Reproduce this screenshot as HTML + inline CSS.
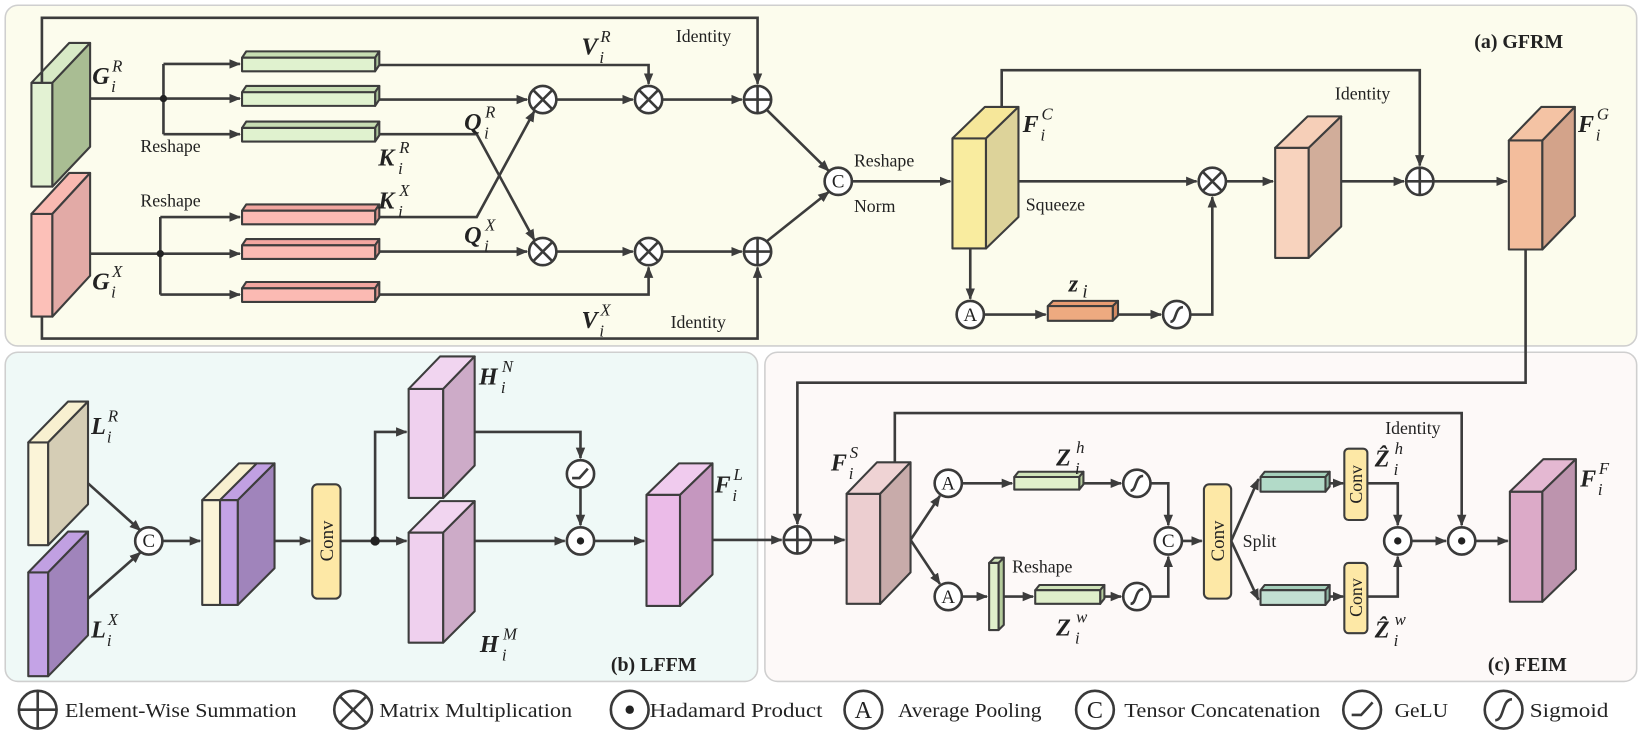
<!DOCTYPE html>
<html><head><meta charset="utf-8"><style>
html,body{margin:0;padding:0;background:#fff;}
svg{display:block;}
text{font-family:"Liberation Serif",serif;fill:#222;}
.l{font-size:17px;}
.m{font-size:23px;font-weight:bold;font-style:italic;}
.s{font-size:16px;font-style:italic;}
.lg{font-size:19px;}
</style></head><body>
<svg width="1644" height="737" viewBox="0 0 1569 703" preserveAspectRatio="none" xmlns="http://www.w3.org/2000/svg">
<defs>
<marker id="ar" markerWidth="11" markerHeight="10" refX="10" refY="5" orient="auto" markerUnits="userSpaceOnUse"><path d="M0,0.5 L11,5 L0,9.5z" fill="#3c3c3c"/></marker>
</defs>
<!-- panels -->
<rect x="5" y="5" width="1557" height="325" rx="12" fill="#fcfced" stroke="#cfcfcf" stroke-width="1.5"/>
<rect x="5" y="336" width="718" height="314" rx="12" fill="#eff9f7" stroke="#cfcfcf" stroke-width="1.5"/>
<rect x="730" y="336" width="832" height="314" rx="12" fill="#fdf9f8" stroke="#cfcfcf" stroke-width="1.5"/>

<g stroke="#3d3d3d" stroke-width="2" stroke-linejoin="round">
<!-- G^R -->
<rect x="30" y="79" width="20" height="99" fill="#e3f2d3"/>
<polygon points="30,79 66,41 86,41 50,79" fill="#d8eac6"/>
<polygon points="50,79 86,41 86,140 50,178" fill="#a9bd93"/>
<!-- G^X -->
<rect x="30" y="204" width="20" height="98" fill="#fcc0b8"/>
<polygon points="30,204 66,165 86,165 50,204" fill="#f9b9b1"/>
<polygon points="50,204 86,165 86,263 50,302" fill="#e2aaa6"/>
<!-- green bars -->
<g>
<polygon points="231,55 235,49 362,49 358,55" fill="#c7ddb3"/><polygon points="358,55 362,49 362,62 358,68" fill="#aac49a"/><rect x="231" y="55" width="127" height="13" fill="#e0f2cf"/>
<polygon points="231,88 235,82 362,82 358,88" fill="#c7ddb3"/><polygon points="358,88 362,82 362,95 358,101" fill="#aac49a"/><rect x="231" y="88" width="127" height="13" fill="#e0f2cf"/>
<polygon points="231,122 235,116 362,116 358,122" fill="#c7ddb3"/><polygon points="358,122 362,116 362,129 358,135" fill="#aac49a"/><rect x="231" y="122" width="127" height="13" fill="#e0f2cf"/>
</g>
<!-- pink bars -->
<g>
<polygon points="231,201 235,195 362,195 358,201" fill="#f2a6a0"/><polygon points="358,201 362,195 362,208 358,214" fill="#e09890"/><rect x="231" y="201" width="127" height="13" fill="#fbbab3"/>
<polygon points="231,234 235,228 362,228 358,234" fill="#f2a6a0"/><polygon points="358,234 362,228 362,241 358,247" fill="#e09890"/><rect x="231" y="234" width="127" height="13" fill="#fbbab3"/>
<polygon points="231,275 235,269 362,269 358,275" fill="#f2a6a0"/><polygon points="358,275 362,269 362,282 358,288" fill="#e09890"/><rect x="231" y="275" width="127" height="13" fill="#fbbab3"/>
</g>
<!-- F^C -->
<rect x="909" y="132" width="32" height="105" fill="#f9ec9f"/>
<polygon points="909,132 940,102 972,102 941,132" fill="#f6e79a"/>
<polygon points="941,132 972,102 972,207 941,237" fill="#ddd39a"/>
<!-- orange slab -->
<rect x="1217" y="141" width="32" height="105" fill="#f8d3be"/>
<polygon points="1217,141 1248,111 1280,111 1249,141" fill="#f6cfb8"/>
<polygon points="1249,141 1280,111 1280,216 1249,246" fill="#d1ad9a"/>
<!-- F^G -->
<rect x="1440" y="134" width="32" height="104" fill="#f3bd9c"/>
<polygon points="1440,134 1471,102 1503,102 1472,134" fill="#f4c3a4"/>
<polygon points="1472,134 1503,102 1503,206 1472,238" fill="#d3a38a"/>
<!-- z bar -->
<polygon points="1000,292 1005,287 1067,287 1062,292" fill="#e99c72"/>
<polygon points="1062,292 1067,287 1067,301 1062,306" fill="#d48a62"/>
<rect x="1000" y="292" width="62" height="14" fill="#eeaa80"/>

<!-- LFFM -->
<rect x="27" y="422" width="19" height="98" fill="#fbf4d8"/>
<polygon points="27,422 65,383 84,383 46,422" fill="#f8f0d0"/>
<polygon points="46,422 84,383 84,481 46,520" fill="#d5cdb5"/>
<rect x="27" y="546" width="19" height="99" fill="#c4a3e6"/>
<polygon points="27,546 65,507 84,507 46,546" fill="#c1a0e2"/>
<polygon points="46,546 84,507 84,606 46,645" fill="#a084bb"/>
<rect x="193" y="477" width="17" height="100" fill="#fbf4d8"/>
<rect x="210" y="477" width="17" height="100" fill="#c4a3e6"/>
<polygon points="193,477 228,442 245,442 210,477" fill="#f8f0d0"/>
<polygon points="210,477 245,442 262,442 227,477" fill="#c1a0e2"/>
<polygon points="227,477 262,442 262,542 227,577" fill="#a084bb"/>
<rect x="298" y="462" width="27" height="109" rx="5" fill="#fde8a6"/>
<rect x="390" y="371" width="33" height="104" fill="#efd0ee"/>
<polygon points="390,371 420,340 453,340 423,371" fill="#f1d5f0"/>
<polygon points="423,371 453,340 453,444 423,475" fill="#cdabc8"/>
<rect x="390" y="508" width="33" height="105" fill="#efd0ee"/>
<polygon points="390,508 420,478 453,478 423,508" fill="#f1d5f0"/>
<polygon points="423,508 453,478 453,583 423,613" fill="#cdabc8"/>
<rect x="617" y="472" width="32" height="106" fill="#ebbbe8"/>
<polygon points="617,472 648,442 680,442 649,472" fill="#f0cbee"/>
<polygon points="649,472 680,442 680,548 649,578" fill="#c597bf"/>

<!-- FEIM -->
<rect x="808" y="471" width="32" height="105" fill="#ecced0"/>
<polygon points="808,471 837,441 869,441 840,471" fill="#efd3d4"/>
<polygon points="840,471 869,441 869,546 840,576" fill="#c8abaa"/>
<polygon points="968,455 972,450 1034,450 1030,455" fill="#cfe3b9"/><polygon points="1030,455 1034,450 1034,462 1030,467" fill="#b5cc9d"/><rect x="968" y="455" width="62" height="12" fill="#e0efcb"/>
<polygon points="944,537 949,532 958,532 953,537" fill="#cfe3b9"/><polygon points="953,537 958,532 958,596 953,601" fill="#b5cc9d"/><rect x="944" y="537" width="9" height="64" fill="#e0efcb"/>
<polygon points="988,563 992,558 1054,558 1050,563" fill="#cfe3b9"/><polygon points="1050,563 1054,558 1054,571 1050,576" fill="#b5cc9d"/><rect x="988" y="563" width="62" height="13" fill="#e0efcb"/>
<rect x="1149" y="462" width="26" height="109" rx="5" fill="#fde8a6"/>
<polygon points="1203,455 1207,450 1269,450 1265,455" fill="#a5cfbb"/><polygon points="1265,455 1269,450 1269,464 1265,469" fill="#8fb8a5"/><rect x="1203" y="455" width="62" height="14" fill="#b2dac8"/>
<polygon points="1203,563 1207,558 1269,558 1265,563" fill="#a5cfbb"/><polygon points="1265,563 1269,558 1269,572 1265,577" fill="#8fb8a5"/><rect x="1203" y="563" width="62" height="14" fill="#c2e0d2"/>
<rect x="1283" y="428" width="22" height="68" rx="4" fill="#fde8a6"/>
<rect x="1283" y="537" width="22" height="67" rx="4" fill="#fde8a6"/>
<rect x="1441" y="469" width="31" height="105" fill="#dcaac8"/>
<polygon points="1441,469 1473,438 1504,438 1472,469" fill="#e4b8d2"/>
<polygon points="1472,469 1504,438 1504,543 1472,574" fill="#bd94ae"/>
</g>

<!-- connectors -->
<g stroke="#3c3c3c" stroke-width="2.5" fill="none" stroke-linejoin="miter">
<path d="M40,79 V17 H723 V80" marker-end="url(#ar)"/>
<path d="M40,302 V323 H723 V255" marker-end="url(#ar)"/>
<path d="M86,94 H156"/><path d="M156,61 V128"/>
<path d="M156,61 H229" marker-end="url(#ar)"/><path d="M156,94 H229" marker-end="url(#ar)"/><path d="M156,128 H229" marker-end="url(#ar)"/>
<path d="M86,242 H153"/><path d="M153,207 V281"/>
<path d="M153,207 H229" marker-end="url(#ar)"/><path d="M153,242 H229" marker-end="url(#ar)"/><path d="M153,281 H229" marker-end="url(#ar)"/>
<path d="M362,62 H619 V80" marker-end="url(#ar)"/>
<path d="M362,95 H503" marker-end="url(#ar)"/>
<path d="M531,95 H604" marker-end="url(#ar)"/><path d="M632,95 H708" marker-end="url(#ar)"/>
<path d="M362,128 H455 L510,229" marker-end="url(#ar)"/>
<path d="M362,207 H455 L510,106" marker-end="url(#ar)"/>
<path d="M362,240 H503" marker-end="url(#ar)"/>
<path d="M531,240 H604" marker-end="url(#ar)"/><path d="M632,240 H708" marker-end="url(#ar)"/>
<path d="M362,281 H619 V255" marker-end="url(#ar)"/>
<path d="M732,105 L791,163" marker-end="url(#ar)"/>
<path d="M732,230 L791,183" marker-end="url(#ar)"/>
<path d="M813,173 H907" marker-end="url(#ar)"/>
<path d="M972,173 H1142" marker-end="url(#ar)"/>
<path d="M1170,173 H1215" marker-end="url(#ar)"/>
<path d="M1280,173 H1340" marker-end="url(#ar)"/>
<path d="M1368,173 H1438" marker-end="url(#ar)"/>
<path d="M956,102 V67 H1355 V158" marker-end="url(#ar)"/>
<path d="M926,237 V285" marker-end="url(#ar)"/>
<path d="M939,300 H998" marker-end="url(#ar)"/>
<path d="M1067,300 H1108" marker-end="url(#ar)"/>
<path d="M1136,300 H1157 V188" marker-end="url(#ar)"/>
<path d="M1456,238 V365 H761 V500" marker-end="url(#ar)"/>
<!-- LFFM -->
<path d="M84,461 L134,506" marker-end="url(#ar)"/>
<path d="M84,571 L134,527" marker-end="url(#ar)"/>
<path d="M155,516 H191" marker-end="url(#ar)"/>
<path d="M262,516 H296" marker-end="url(#ar)"/>
<path d="M325,516 H388" marker-end="url(#ar)"/>
<path d="M358,516 V412 H388" marker-end="url(#ar)"/>
<path d="M453,412 H554 V437" marker-end="url(#ar)"/>
<path d="M554,465 V501" marker-end="url(#ar)"/>
<path d="M453,516 H539" marker-end="url(#ar)"/>
<path d="M567,516 H615" marker-end="url(#ar)"/>
<path d="M680,515 H746" marker-end="url(#ar)"/>
<path d="M774,515 H806" marker-end="url(#ar)"/>
<!-- FEIM -->
<path d="M854,441 V394 H1395 V501" marker-end="url(#ar)"/>
<path d="M869,515 L897,473" marker-end="url(#ar)"/>
<path d="M869,515 L897,557" marker-end="url(#ar)"/>
<path d="M918,461 H966" marker-end="url(#ar)"/>
<path d="M1034,461 H1070" marker-end="url(#ar)"/>
<path d="M1098,461 H1115 V501" marker-end="url(#ar)"/>
<path d="M918,569 H942" marker-end="url(#ar)"/>
<path d="M958,569 H986" marker-end="url(#ar)"/>
<path d="M1054,569 H1070" marker-end="url(#ar)"/>
<path d="M1098,569 H1115 V531" marker-end="url(#ar)"/>
<path d="M1128,516 H1147" marker-end="url(#ar)"/>
<path d="M1175,516 L1201,457" marker-end="url(#ar)"/>
<path d="M1175,516 L1201,572" marker-end="url(#ar)"/>
<path d="M1269,461 H1282" marker-end="url(#ar)"/>
<path d="M1269,569 H1282" marker-end="url(#ar)"/>
<path d="M1305,461 H1334 V501" marker-end="url(#ar)"/>
<path d="M1305,569 H1334 V531" marker-end="url(#ar)"/>
<path d="M1347,516 H1380" marker-end="url(#ar)"/>
<path d="M1408,516 H1439" marker-end="url(#ar)"/>
</g>
<g fill="#222"><circle cx="156" cy="94" r="3.5"/><circle cx="153" cy="242" r="3.5"/><circle cx="358" cy="516" r="4.5"/></g>

<!-- operator circles -->
<g stroke="#3a3a3a" stroke-width="2.5" fill="#fff">
<!-- mult -->
<g><circle cx="518" cy="95" r="13"/><path d="M509,86 L527,104 M527,86 L509,104"/></g>
<g><circle cx="619" cy="95" r="13"/><path d="M610,86 L628,104 M628,86 L610,104"/></g>
<g><circle cx="518" cy="240" r="13"/><path d="M509,231 L527,249 M527,231 L509,249"/></g>
<g><circle cx="619" cy="240" r="13"/><path d="M610,231 L628,249 M628,231 L610,249"/></g>
<g><circle cx="1157" cy="173" r="13"/><path d="M1148,164 L1166,182 M1166,164 L1148,182"/></g>
<!-- plus -->
<g><circle cx="723" cy="95" r="13"/><path d="M710,95 H736 M723,82 V108"/></g>
<g><circle cx="723" cy="240" r="13"/><path d="M710,240 H736 M723,227 V253"/></g>
<g><circle cx="1355" cy="173" r="13"/><path d="M1342,173 H1368 M1355,160 V186"/></g>
<g><circle cx="761" cy="515" r="13"/><path d="M748,515 H774 M761,502 V528"/></g>
<!-- C / A -->
<circle cx="800" cy="173" r="13"/><circle cx="926" cy="300" r="13"/>
<circle cx="142" cy="516" r="13"/>
<circle cx="905" cy="461" r="13"/><circle cx="905" cy="569" r="13"/><circle cx="1115" cy="516" r="13"/>
<!-- sigmoid -->
<g><circle cx="1123" cy="300" r="13"/><path d="M1117,307 C1123,307 1121,293 1129,293" fill="none"/></g>
<g><circle cx="1085" cy="461" r="13"/><path d="M1079,468 C1085,468 1083,454 1091,454" fill="none"/></g>
<g><circle cx="1085" cy="569" r="13"/><path d="M1079,576 C1085,576 1083,562 1091,562" fill="none"/></g>
<!-- gelu -->
<g><circle cx="554" cy="452" r="13"/><path d="M546,456 H553 L561,447" fill="none"/></g>
<!-- hadamard -->
<circle cx="554" cy="516" r="13"/><circle cx="1334" cy="516" r="13"/><circle cx="1395" cy="516" r="13"/>
</g>
<g fill="#222"><circle cx="554" cy="516" r="3.5"/><circle cx="1334" cy="516" r="3.5"/><circle cx="1395" cy="516" r="3.5"/></g>
<g font-size="18" text-anchor="middle">
<text x="800" y="179" style="font-size:18px">C</text><text x="926" y="306" style="font-size:18px">A</text>
<text x="142" y="522" style="font-size:18px">C</text>
<text x="905" y="467" style="font-size:18px">A</text><text x="905" y="575" style="font-size:18px">A</text><text x="1115" y="522" style="font-size:18px">C</text>
</g>
<!-- conv labels -->
<text transform="translate(318,516) rotate(-90)" text-anchor="middle" style="font-size:18px">Conv</text>
<text transform="translate(1168,516) rotate(-90)" text-anchor="middle" style="font-size:18px">Conv</text>
<text transform="translate(1300,462) rotate(-90)" text-anchor="middle" style="font-size:17px">Conv</text>
<text transform="translate(1300,570) rotate(-90)" text-anchor="middle" style="font-size:17px">Conv</text>

<!-- plain labels -->
<text class="l" x="645" y="40">Identity</text>
<text class="l" x="640" y="313">Identity</text>
<text class="l" x="134" y="145">Reshape</text>
<text class="l" x="134" y="197">Reshape</text>
<text class="l" x="815" y="159">Reshape</text>
<text class="l" x="815" y="202">Norm</text>
<text class="l" x="979" y="201">Squeeze</text>
<text class="l" x="1274" y="95">Identity</text>
<text class="l" x="966" y="546">Reshape</text>
<text class="l" x="1186" y="522">Split</text>
<text class="l" x="1322" y="414">Identity</text>
<text x="1474" y="46" style="font-size:19px;font-weight:bold" transform="translate(-67,0)">(a) GFRM</text>
<text x="583" y="640" style="font-size:19px;font-weight:bold">(b) LFFM</text>
<text x="1420" y="640" style="font-size:19px;font-weight:bold">(c) FEIM</text>

<!-- math labels -->
<text class="m" x="88" y="80">G</text><text class="s" x="107" y="68">R</text><text class="s" x="106" y="88">i</text>
<text class="m" x="88" y="276">G</text><text class="s" x="107" y="264">X</text><text class="s" x="106" y="284">i</text>
<text class="m" x="555" y="52">V</text><text class="s" x="573" y="40">R</text><text class="s" x="572" y="60">i</text>
<text class="m" x="555" y="313">V</text><text class="s" x="573" y="301">X</text><text class="s" x="572" y="321">i</text>
<text class="m" x="443" y="124">Q</text><text class="s" x="463" y="112">R</text><text class="s" x="462" y="132">i</text>
<text class="m" x="443" y="232">Q</text><text class="s" x="463" y="220">X</text><text class="s" x="462" y="240">i</text>
<text class="m" x="361" y="158">K</text><text class="s" x="381" y="146">R</text><text class="s" x="380" y="166">i</text>
<text class="m" x="361" y="199">K</text><text class="s" x="381" y="187">X</text><text class="s" x="380" y="207">i</text>
<text class="m" x="976" y="126">F</text><text class="s" x="994" y="114">C</text><text class="s" x="993" y="134">i</text>
<text class="m" x="1506" y="126">F</text><text class="s" x="1524" y="114">G</text><text class="s" x="1523" y="134">i</text>
<text class="m" x="1020" y="278">z</text><text class="s" x="1033" y="284" style="font-size:18px">i</text>
<text class="m" x="87" y="414">L</text><text class="s" x="103" y="402">R</text><text class="s" x="102" y="422">i</text>
<text class="m" x="87" y="608">L</text><text class="s" x="103" y="596">X</text><text class="s" x="102" y="616">i</text>
<text class="m" x="457" y="367">H</text><text class="s" x="479" y="355">N</text><text class="s" x="478" y="375">i</text>
<text class="m" x="458" y="622">H</text><text class="s" x="480" y="610">M</text><text class="s" x="479" y="630">i</text>
<text class="m" x="682" y="470">F</text><text class="s" x="700" y="458">L</text><text class="s" x="699" y="478">i</text>
<text class="m" x="793" y="449">F</text><text class="s" x="811" y="437">S</text><text class="s" x="810" y="457">i</text>
<text class="m" x="1008" y="444">Z</text><text class="s" x="1027" y="432">h</text><text class="s" x="1026" y="452">i</text>
<text class="m" x="1008" y="606">Z</text><text class="s" x="1027" y="594">w</text><text class="s" x="1026" y="614">i</text>
<text class="m" x="1312" y="445">Ẑ</text><text class="s" x="1331" y="433">h</text><text class="s" x="1330" y="453">i</text>
<text class="m" x="1312" y="608">Ẑ</text><text class="s" x="1331" y="596">w</text><text class="s" x="1330" y="616">i</text>
<text class="m" x="1508" y="464">F</text><text class="s" x="1526" y="452">F</text><text class="s" x="1525" y="472">i</text>

<!-- legend -->
<g stroke="#3a3a3a" stroke-width="2.5" fill="#fff">
<g><circle cx="36" cy="677" r="18"/><path d="M18,677 H54 M36,659 V695"/></g>
<g><circle cx="337" cy="677" r="18"/><path d="M324,664 L350,690 M350,664 L324,690"/></g>
<circle cx="601" cy="677" r="18"/>
<circle cx="824" cy="677" r="18"/>
<circle cx="1045" cy="677" r="18"/>
<g><circle cx="1300" cy="677" r="18"/><path d="M1290,682 H1299 L1310,670" fill="none"/></g>
<g><circle cx="1435" cy="677" r="18"/><path d="M1427,687 C1436,687 1433,667 1443,667" fill="none"/></g>
</g>
<circle cx="601" cy="677" r="4" fill="#222"/>
<text x="824" y="685" text-anchor="middle" style="font-size:23px">A</text>
<text x="1045" y="685" text-anchor="middle" style="font-size:23px">C</text>
<text class="lg" x="62" y="684" textLength="221" lengthAdjust="spacingAndGlyphs">Element-Wise Summation</text>
<text class="lg" x="362" y="684" textLength="184" lengthAdjust="spacingAndGlyphs">Matrix Multiplication</text>
<text class="lg" x="620" y="684" textLength="165" lengthAdjust="spacingAndGlyphs">Hadamard Product</text>
<text class="lg" x="857" y="684" textLength="137" lengthAdjust="spacingAndGlyphs">Average Pooling</text>
<text class="lg" x="1073" y="684" textLength="187" lengthAdjust="spacingAndGlyphs">Tensor Concatenation</text>
<text class="lg" x="1331" y="684" textLength="51" lengthAdjust="spacingAndGlyphs">GeLU</text>
<text class="lg" x="1460" y="684" textLength="75" lengthAdjust="spacingAndGlyphs">Sigmoid</text>
</svg>
</body></html>
